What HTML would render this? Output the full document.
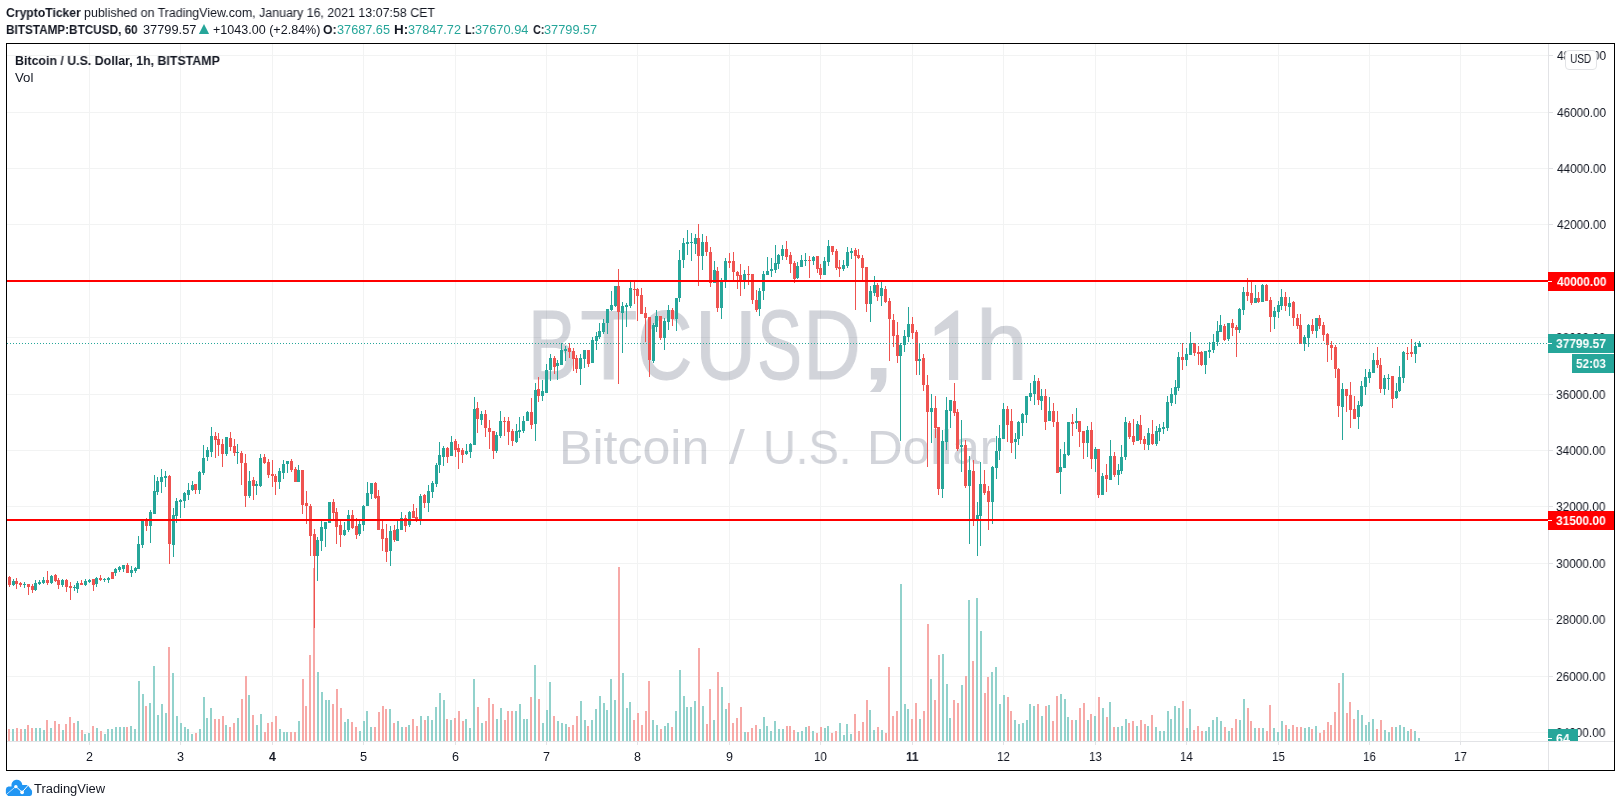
<!DOCTYPE html><html><head><meta charset="utf-8"><title>BTCUSD</title><style>
html,body{margin:0;padding:0;background:#fff;}
body{width:1621px;height:807px;position:relative;overflow:hidden;font-family:'Liberation Sans', sans-serif;}
.t{position:absolute;white-space:nowrap;line-height:24px;transform-origin:0 0;will-change:transform;font-family:'Liberation Sans', sans-serif;}
svg{position:absolute;left:0;top:0;}
</style></head><body>
<div class="t" style="left:527.66px;top:273px;font-size:97.5px;font-weight:normal;color:#d2d4da;transform:scaleX(0.7515);line-height:146px;-webkit-text-stroke:1.0px #d2d4da;">B</div>
<div class="t" style="left:579.97px;top:273px;font-size:97.5px;font-weight:normal;color:#d2d4da;transform:scaleX(0.9650);line-height:146px;-webkit-text-stroke:1.0px #d2d4da;">T</div>
<div class="t" style="left:637.28px;top:273px;font-size:97.5px;font-weight:normal;color:#d2d4da;transform:scaleX(0.7862);line-height:146px;-webkit-text-stroke:1.0px #d2d4da;">C</div>
<div class="t" style="left:694.60px;top:273px;font-size:97.5px;font-weight:normal;color:#d2d4da;transform:scaleX(0.8708);line-height:146px;-webkit-text-stroke:1.0px #d2d4da;">U</div>
<div class="t" style="left:756.95px;top:273px;font-size:97.5px;font-weight:normal;color:#d2d4da;transform:scaleX(0.6927);line-height:146px;-webkit-text-stroke:1.0px #d2d4da;">S</div>
<div class="t" style="left:802.82px;top:273px;font-size:97.5px;font-weight:normal;color:#d2d4da;transform:scaleX(0.8226);line-height:146px;-webkit-text-stroke:1.0px #d2d4da;">D</div>
<div class="t" style="left:857.53px;top:273px;font-size:97.5px;font-weight:normal;color:#d2d4da;transform:scaleX(1.5088);line-height:146px;-webkit-text-stroke:1.0px #d2d4da;">,</div>
<div class="t" style="left:975.77px;top:273px;font-size:97.5px;font-weight:normal;color:#d2d4da;transform:scaleX(0.9533);line-height:146px;-webkit-text-stroke:1.0px #d2d4da;">h</div>
<div class="t" style="left:559.38px;top:412px;font-size:47.5px;font-weight:normal;color:#d2d4da;transform:scaleX(1.0541);line-height:71px;">Bitcoin</div>
<div class="t" style="left:728.73px;top:412px;font-size:47.5px;font-weight:normal;color:#d2d4da;transform:scaleX(1.1987);line-height:71px;">/</div>
<div class="t" style="left:763.18px;top:412px;font-size:47.5px;font-weight:normal;color:#d2d4da;transform:scaleX(0.9570);line-height:71px;">U.S.</div>
<div class="t" style="left:866.63px;top:412px;font-size:47.5px;font-weight:normal;color:#d2d4da;transform:scaleX(1.0413);line-height:71px;">Dollar</div>
<svg width="1621" height="807" viewBox="0 0 1621 807" shape-rendering="crispEdges" style="will-change:transform"><path d="M934.7 327.3L955.7 310.6L958.2 310.6V380H949V327.9L934.7 335.9z" fill="#d2d4da" shape-rendering="auto"/><path d="M7 732.5H1548M7 676.5H1548M7 619.5H1548M7 563.5H1548M7 506.5H1548M7 450.5H1548M7 394.5H1548M7 337.5H1548M7 281.5H1548M7 224.5H1548M7 168.5H1548M7 112.5H1548M7 55.5H1548M89.5 44V741M180.5 44V741M272.5 44V741M363.5 44V741M455.5 44V741M546.5 44V741M637.5 44V741M729.5 44V741M820.5 44V741M912.5 44V741M1003.5 44V741M1095.5 44V741M1186.5 44V741M1278.5 44V741M1369.5 44V741M1460.5 44V741" stroke="#2a2e39" stroke-opacity="0.06" stroke-width="1" fill="none"/><path d="M12 741v-12h2V741zM24 741v-12h2V741zM35 741v-13h2V741zM39 741v-13h2V741zM43 741v-11h2V741zM50 741v-13h2V741zM62 741v-11h2V741zM77 741v-20h2V741zM84 741v-7h2V741zM88 741v-8h2V741zM96 741v-13h2V741zM104 741v-7h2V741zM107 741v-12h2V741zM111 741v-12h2V741zM115 741v-14h2V741zM119 741v-14h2V741zM123 741v-14h2V741zM130 741v-15h2V741zM134 741v-12h2V741zM138 741v-60h2V741zM142 741v-47h2V741zM149 741v-38h2V741zM153 741v-75h2V741zM157 741v-26h2V741zM161 741v-37h2V741zM165 741v-28h2V741zM172 741v-68h2V741zM176 741v-25h2V741zM180 741v-18h2V741zM184 741v-14h2V741zM187 741v-12h2V741zM191 741v-7h2V741zM199 741v-12h2V741zM203 741v-44h2V741zM206 741v-23h2V741zM210 741v-33h2V741zM225 741v-16h2V741zM237 741v-23h2V741zM248 741v-46h2V741zM256 741v-16h2V741zM260 741v-27h2V741zM279 741v-12h2V741zM283 741v-9h2V741zM286 741v-9h2V741zM298 741v-20h2V741zM317 741v-69h2V741zM321 741v-49h2V741zM325 741v-41h2V741zM328 741v-41h2V741zM344 741v-19h2V741zM347 741v-22h2V741zM359 741v-10h2V741zM363 741v-20h2V741zM366 741v-30h2V741zM370 741v-14h2V741zM389 741v-32h2V741zM397 741v-20h2V741zM401 741v-14h2V741zM408 741v-16h2V741zM420 741v-25h2V741zM427 741v-25h2V741zM431 741v-21h2V741zM435 741v-34h2V741zM439 741v-48h2V741zM443 741v-41h2V741zM450 741v-21h2V741zM465 741v-22h2V741zM469 741v-13h2V741zM473 741v-62h2V741zM481 741v-18h2V741zM496 741v-22h2V741zM500 741v-33h2V741zM515 741v-30h2V741zM519 741v-37h2V741zM523 741v-22h2V741zM526 741v-22h2V741zM534 741v-76h2V741zM542 741v-18h2V741zM546 741v-31h2V741zM549 741v-59h2V741zM557 741v-20h2V741zM561 741v-18h2V741zM565 741v-17h2V741zM580 741v-40h2V741zM584 741v-21h2V741zM591 741v-21h2V741zM595 741v-32h2V741zM599 741v-45h2V741zM603 741v-38h2V741zM606 741v-31h2V741zM610 741v-62h2V741zM614 741v-41h2V741zM622 741v-68h2V741zM626 741v-33h2V741zM629 741v-39h2V741zM652 741v-21h2V741zM656 741v-16h2V741zM664 741v-15h2V741zM667 741v-18h2V741zM675 741v-30h2V741zM679 741v-71h2V741zM683 741v-45h2V741zM686 741v-34h2V741zM690 741v-34h2V741zM694 741v-40h2V741zM702 741v-35h2V741zM713 741v-21h2V741zM721 741v-54h2V741zM725 741v-32h2V741zM744 741v-9h2V741zM759 741v-12h2V741zM763 741v-24h2V741zM766 741v-15h2V741zM770 741v-10h2V741zM774 741v-20h2V741zM778 741v-12h2V741zM782 741v-12h2V741zM797 741v-9h2V741zM801 741v-10h2V741zM805 741v-14h2V741zM812 741v-10h2V741zM824 741v-13h2V741zM827 741v-15h2V741zM839 741v-18h2V741zM843 741v-6h2V741zM846 741v-17h2V741zM850 741v-7h2V741zM869 741v-31h2V741zM873 741v-11h2V741zM881 741v-11h2V741zM900 741v-157h2V741zM904 741v-37h2V741zM907 741v-32h2V741zM919 741v-22h2V741zM930 741v-62h2V741zM942 741v-87h2V741zM946 741v-57h2V741zM949 741v-23h2V741zM961 741v-56h2V741zM968 741v-141h2V741zM976 741v-143h2V741zM980 741v-110h2V741zM991 741v-69h2V741zM995 741v-74h2V741zM999 741v-37h2V741zM1003 741v-46h2V741zM1014 741v-21h2V741zM1018 741v-17h2V741zM1022 741v-18h2V741zM1026 741v-21h2V741zM1029 741v-37h2V741zM1033 741v-35h2V741zM1041 741v-25h2V741zM1048 741v-36h2V741zM1060 741v-47h2V741zM1064 741v-42h2V741zM1067 741v-24h2V741zM1075 741v-21h2V741zM1087 741v-21h2V741zM1094 741v-25h2V741zM1102 741v-33h2V741zM1109 741v-39h2V741zM1117 741v-14h2V741zM1121 741v-15h2V741zM1125 741v-22h2V741zM1136 741v-15h2V741zM1147 741v-15h2V741zM1155 741v-14h2V741zM1159 741v-10h2V741zM1163 741v-10h2V741zM1167 741v-30h2V741zM1170 741v-22h2V741zM1174 741v-35h2V741zM1178 741v-33h2V741zM1186 741v-13h2V741zM1189 741v-32h2V741zM1205 741v-10h2V741zM1208 741v-14h2V741zM1212 741v-21h2V741zM1216 741v-24h2V741zM1220 741v-20h2V741zM1228 741v-10h2V741zM1239 741v-21h2V741zM1243 741v-42h2V741zM1254 741v-13h2V741zM1262 741v-13h2V741zM1273 741v-13h2V741zM1277 741v-9h2V741zM1281 741v-20h2V741zM1288 741v-12h2V741zM1304 741v-13h2V741zM1308 741v-14h2V741zM1315 741v-15h2V741zM1342 741v-68h2V741zM1357 741v-31h2V741zM1361 741v-26h2V741zM1365 741v-16h2V741zM1368 741v-19h2V741zM1372 741v-22h2V741zM1384 741v-11h2V741zM1388 741v-9h2V741zM1395 741v-14h2V741zM1399 741v-16h2V741zM1403 741v-14h2V741zM1407 741v-10h2V741zM1414 741v-10h2V741zM1418 741v-3h2V741z" fill="#92d2cc"/><path d="M8 741v-12h2V741zM16 741v-13h2V741zM20 741v-12h2V741zM27 741v-16h2V741zM31 741v-13h2V741zM46 741v-21h2V741zM54 741v-20h2V741zM58 741v-17h2V741zM65 741v-17h2V741zM69 741v-24h2V741zM73 741v-18h2V741zM81 741v-11h2V741zM92 741v-15h2V741zM100 741v-10h2V741zM126 741v-14h2V741zM145 741v-35h2V741zM168 741v-94h2V741zM195 741v-8h2V741zM214 741v-22h2V741zM218 741v-22h2V741zM222 741v-25h2V741zM229 741v-14h2V741zM233 741v-18h2V741zM241 741v-42h2V741zM245 741v-65h2V741zM252 741v-26h2V741zM264 741v-9h2V741zM267 741v-18h2V741zM271 741v-19h2V741zM275 741v-25h2V741zM290 741v-9h2V741zM294 741v-9h2V741zM302 741v-62h2V741zM305 741v-35h2V741zM309 741v-86h2V741zM313 741v-173h2V741zM332 741v-37h2V741zM336 741v-52h2V741zM340 741v-33h2V741zM351 741v-19h2V741zM355 741v-14h2V741zM374 741v-14h2V741zM378 741v-29h2V741zM382 741v-35h2V741zM385 741v-32h2V741zM393 741v-18h2V741zM405 741v-14h2V741zM412 741v-22h2V741zM416 741v-15h2V741zM424 741v-21h2V741zM446 741v-22h2V741zM454 741v-23h2V741zM458 741v-30h2V741zM462 741v-20h2V741zM477 741v-34h2V741zM485 741v-20h2V741zM488 741v-43h2V741zM492 741v-37h2V741zM504 741v-21h2V741zM507 741v-30h2V741zM511 741v-30h2V741zM530 741v-44h2V741zM538 741v-42h2V741zM553 741v-25h2V741zM568 741v-14h2V741zM572 741v-16h2V741zM576 741v-25h2V741zM587 741v-15h2V741zM618 741v-174h2V741zM633 741v-21h2V741zM637 741v-28h2V741zM641 741v-16h2V741zM645 741v-30h2V741zM648 741v-60h2V741zM660 741v-12h2V741zM671 741v-14h2V741zM698 741v-93h2V741zM706 741v-17h2V741zM709 741v-52h2V741zM717 741v-69h2V741zM728 741v-38h2V741zM732 741v-18h2V741zM736 741v-23h2V741zM740 741v-34h2V741zM747 741v-9h2V741zM751 741v-13h2V741zM755 741v-16h2V741zM786 741v-15h2V741zM789 741v-15h2V741zM793 741v-11h2V741zM808 741v-15h2V741zM816 741v-8h2V741zM820 741v-14h2V741zM831 741v-8h2V741zM835 741v-10h2V741zM854 741v-27h2V741zM858 741v-10h2V741zM862 741v-19h2V741zM866 741v-41h2V741zM877 741v-14h2V741zM885 741v-8h2V741zM888 741v-74h2V741zM892 741v-25h2V741zM896 741v-30h2V741zM911 741v-22h2V741zM915 741v-38h2V741zM923 741v-30h2V741zM927 741v-117h2V741zM934 741v-41h2V741zM938 741v-86h2V741zM953 741v-41h2V741zM957 741v-38h2V741zM965 741v-65h2V741zM972 741v-80h2V741zM984 741v-48h2V741zM987 741v-64h2V741zM1007 741v-44h2V741zM1010 741v-30h2V741zM1037 741v-37h2V741zM1045 741v-35h2V741zM1052 741v-20h2V741zM1056 741v-45h2V741zM1071 741v-21h2V741zM1079 741v-33h2V741zM1083 741v-38h2V741zM1090 741v-27h2V741zM1098 741v-44h2V741zM1106 741v-24h2V741zM1113 741v-14h2V741zM1128 741v-18h2V741zM1132 741v-20h2V741zM1140 741v-21h2V741zM1144 741v-17h2V741zM1151 741v-26h2V741zM1182 741v-40h2V741zM1193 741v-11h2V741zM1197 741v-15h2V741zM1201 741v-10h2V741zM1224 741v-14h2V741zM1231 741v-13h2V741zM1235 741v-22h2V741zM1247 741v-33h2V741zM1250 741v-20h2V741zM1258 741v-13h2V741zM1266 741v-10h2V741zM1269 741v-36h2V741zM1285 741v-16h2V741zM1292 741v-16h2V741zM1296 741v-14h2V741zM1300 741v-14h2V741zM1311 741v-12h2V741zM1319 741v-8h2V741zM1323 741v-11h2V741zM1327 741v-19h2V741zM1330 741v-16h2V741zM1334 741v-29h2V741zM1338 741v-58h2V741zM1346 741v-28h2V741zM1349 741v-39h2V741zM1353 741v-22h2V741zM1376 741v-12h2V741zM1380 741v-21h2V741zM1391 741v-14h2V741zM1410 741v-12h2V741z" fill="#f7a9a7"/><path d="M13.5 579V586M24.5 582V588M35.5 580V591M39.5 580V585M43.5 577V584M51.5 575V584M62.5 579V587M74.5 585V591M77.5 581V593M85.5 579V586M89.5 579V583M96.5 577V587M104.5 578V582M108.5 577V583M115.5 568V576M119.5 566V572M123.5 565V572M131.5 566V577M135.5 567V573M138.5 536V569M142.5 519V548M150.5 510V543M154.5 475V514M157.5 477V495M161.5 469V493M165.5 471V487M173.5 508V557M176.5 498V523M180.5 499V518M184.5 492V508M188.5 483V500M192.5 481V491M199.5 471V494M203.5 445V475M207.5 447V461M211.5 427V457M226.5 437V456M237.5 444V464M249.5 471V498M256.5 481V495M260.5 454V487M279.5 468V489M283.5 460V479M287.5 461V473M298.5 465V482M317.5 537V581M321.5 521V551M325.5 522V547M329.5 502V523M344.5 522V536M348.5 510V532M359.5 521V536M363.5 505V531M367.5 482V506M371.5 483V499M390.5 526V566M397.5 519V541M401.5 512V530M409.5 511V527M420.5 494V525M428.5 485V512M432.5 481V498M436.5 463V487M439.5 442V473M443.5 446V466M451.5 436V456M466.5 444V455M470.5 443V458M474.5 397V445M481.5 411V425M496.5 432V453M500.5 411V438M516.5 424V443M519.5 417V438M523.5 416V433M527.5 411V421M535.5 383V441M542.5 380V401M546.5 364V393M550.5 354V381M557.5 360V380M561.5 343V365M565.5 346V361M580.5 354V385M584.5 350V368M592.5 337V363M596.5 332V350M599.5 323V339M603.5 319V334M607.5 309V334M611.5 291V311M615.5 286V307M622.5 302V353M626.5 303V327M630.5 282V308M653.5 323V363M656.5 310V332M664.5 318V350M668.5 305V330M676.5 298V331M679.5 250V302M683.5 238V268M687.5 230V255M691.5 233V261M695.5 234V254M702.5 234V270M714.5 261V283M721.5 278V319M725.5 258V288M744.5 270V289M759.5 288V316M763.5 271V300M767.5 257V275M771.5 258V277M775.5 245V273M778.5 254V269M782.5 245V260M797.5 262V279M801.5 255V267M805.5 253V266M813.5 256V265M824.5 257V275M828.5 240V266M843.5 260V271M847.5 247V268M851.5 248V259M870.5 286V322M874.5 276V296M881.5 282V306M900.5 343V441M904.5 330V352M908.5 307V342M919.5 343V375M931.5 394V443M942.5 430V498M946.5 397V450M950.5 400V428M961.5 420V472M969.5 456V544M977.5 502V556M980.5 462V546M992.5 466V524M996.5 436V479M999.5 425V460M1003.5 403V439M1015.5 433V459M1018.5 421V445M1022.5 413V436M1026.5 396V423M1030.5 383V401M1034.5 375V405M1041.5 389V410M1049.5 397V421M1060.5 449V494M1064.5 442V468M1068.5 422V456M1076.5 408V429M1087.5 426V457M1095.5 447V472M1102.5 473V495M1110.5 440V480M1118.5 464V485M1121.5 445V474M1125.5 417V460M1137.5 421V441M1148.5 428V450M1156.5 426V446M1159.5 424V441M1163.5 422V434M1167.5 396V431M1171.5 388V406M1175.5 380V404M1178.5 352V391M1186.5 348V366M1190.5 332V355M1205.5 351V374M1209.5 342V358M1213.5 334V353M1217.5 321V346M1220.5 315V332M1228.5 323V341M1239.5 308V333M1243.5 287V315M1255.5 285V303M1262.5 284V302M1274.5 307V329M1278.5 301V318M1281.5 289V310M1289.5 297V316M1304.5 335V351M1308.5 324V347M1316.5 318V338M1342.5 383V440M1358.5 401V429M1361.5 381V407M1365.5 369V395M1369.5 369V383M1373.5 353V373M1384.5 375V395M1388.5 374V390M1396.5 383V399M1399.5 366V392M1403.5 351V383M1415.5 342V363M1419.5 341V347" stroke="#26a69a" stroke-width="1" fill="none"/><path d="M9.5 576V587M16.5 578V589M20.5 582V587M28.5 584V595M32.5 584V593M47.5 571V585M55.5 574V582M58.5 578V589M66.5 579V592M70.5 582V600M81.5 580V585M93.5 579V591M100.5 575V581M112.5 572V579M127.5 563V573M146.5 518V531M169.5 475V564M195.5 484V494M215.5 432V458M218.5 433V456M222.5 439V467M230.5 432V451M234.5 439V456M241.5 451V485M245.5 454V507M253.5 477V500M264.5 454V464M268.5 459V478M272.5 460V487M275.5 474V495M291.5 459V472M295.5 467V482M302.5 470V514M306.5 491V524M310.5 504V556M314.5 529V628M333.5 499V519M336.5 508V544M340.5 520V547M352.5 510V529M356.5 518V539M375.5 482V499M378.5 490V530M382.5 519V551M386.5 524V562M394.5 525V542M405.5 515V532M413.5 504V518M416.5 508V522M424.5 494V508M447.5 447V463M455.5 439V457M458.5 444V469M462.5 448V463M477.5 402V433M485.5 410V437M489.5 420V449M493.5 431V459M504.5 417V436M508.5 417V445M512.5 429V446M531.5 398V429M538.5 377V402M554.5 356V374M569.5 343V358M573.5 348V371M576.5 355V373M588.5 350V367M618.5 269V384M634.5 281V304M637.5 288V321M641.5 288V314M645.5 307V342M649.5 317V377M660.5 316V340M672.5 308V326M698.5 224V286M706.5 236V256M710.5 247V287M717.5 267V312M729.5 253V268M733.5 252V280M737.5 271V289M740.5 264V296M748.5 266V285M752.5 274V304M756.5 290V312M786.5 241V260M790.5 252V273M794.5 261V283M809.5 256V278M817.5 256V273M820.5 264V279M832.5 246V255M836.5 249V270M839.5 260V277M855.5 248V310M858.5 249V259M862.5 255V280M866.5 267V312M877.5 283V301M885.5 286V303M889.5 298V361M893.5 314V347M897.5 322V363M912.5 317V339M916.5 330V375M923.5 354V391M927.5 375V467M935.5 396V438M938.5 427V495M954.5 383V416M957.5 409V451M965.5 440V488M973.5 460V526M984.5 470V495M988.5 486V530M1007.5 406V442M1011.5 409V453M1038.5 378V405M1045.5 389V430M1053.5 403V427M1057.5 411V473M1072.5 414V436M1079.5 421V447M1083.5 431V459M1091.5 422V469M1098.5 449V498M1106.5 464V492M1114.5 452V477M1129.5 421V439M1133.5 419V445M1140.5 415V444M1144.5 436V450M1152.5 420V445M1182.5 343V370M1194.5 343V356M1198.5 346V365M1201.5 351V366M1224.5 324V341M1232.5 319V336M1236.5 325V357M1247.5 278V301M1251.5 281V305M1258.5 292V303M1266.5 284V301M1270.5 297V332M1285.5 292V311M1293.5 301V326M1297.5 314V329M1300.5 314V344M1312.5 319V334M1319.5 315V329M1323.5 322V341M1327.5 333V362M1331.5 341V360M1335.5 345V378M1338.5 368V417M1346.5 389V412M1350.5 382V428M1354.5 396V419M1377.5 347V368M1380.5 358V393M1392.5 376V408M1407.5 347V360M1411.5 339V357" stroke="#ef5350" stroke-width="1" fill="none"/><path d="M12 581h3V585h-3zM23 584h3V585h-3zM34 583h3V590h-3zM38 582h3V584h-3zM42 580h3V583h-3zM50 576h3V583h-3zM61 580h3V585h-3zM73 587h3V588h-3zM76 583h3V589h-3zM84 581h3V585h-3zM88 580h3V582h-3zM95 578h3V584h-3zM103 579h3V580h-3zM107 578h3V580h-3zM114 569h3V573h-3zM118 567h3V570h-3zM122 565h3V569h-3zM130 570h3V573h-3zM134 568h3V571h-3zM137 544h3V569h-3zM141 519h3V545h-3zM149 512h3V526h-3zM153 491h3V514h-3zM156 481h3V492h-3zM160 477h3V482h-3zM164 476h3V478h-3zM172 515h3V545h-3zM175 501h3V516h-3zM179 500h3V502h-3zM183 493h3V501h-3zM187 490h3V495h-3zM191 485h3V490h-3zM198 472h3V490h-3zM202 458h3V473h-3zM206 450h3V457h-3zM210 436h3V452h-3zM225 437h3V454h-3zM236 452h3V453h-3zM248 481h3V496h-3zM255 484h3V486h-3zM259 458h3V486h-3zM278 471h3V482h-3zM282 464h3V473h-3zM286 461h3V464h-3zM297 470h3V482h-3zM316 540h3V556h-3zM320 527h3V541h-3zM324 522h3V529h-3zM328 502h3V523h-3zM343 530h3V535h-3zM347 515h3V530h-3zM358 524h3V534h-3zM362 506h3V525h-3zM366 493h3V506h-3zM370 483h3V494h-3zM389 531h3V551h-3zM396 529h3V541h-3zM400 518h3V530h-3zM408 512h3V525h-3zM419 496h3V520h-3zM427 491h3V503h-3zM431 483h3V492h-3zM435 465h3V484h-3zM438 455h3V465h-3zM442 448h3V457h-3zM450 442h3V456h-3zM465 451h3V454h-3zM469 444h3V452h-3zM473 409h3V445h-3zM480 414h3V420h-3zM495 435h3V451h-3zM499 421h3V436h-3zM515 431h3V442h-3zM518 430h3V432h-3zM522 421h3V431h-3zM526 412h3V421h-3zM534 390h3V424h-3zM541 391h3V396h-3zM545 370h3V393h-3zM549 358h3V370h-3zM556 363h3V366h-3zM560 350h3V365h-3zM564 349h3V351h-3zM579 358h3V369h-3zM583 350h3V359h-3zM591 340h3V363h-3zM595 336h3V341h-3zM598 331h3V337h-3zM602 323h3V332h-3zM606 309h3V323h-3zM610 305h3V310h-3zM614 286h3V306h-3zM621 306h3V313h-3zM625 305h3V307h-3zM629 288h3V306h-3zM652 325h3V361h-3zM655 316h3V327h-3zM663 321h3V338h-3zM667 310h3V322h-3zM675 298h3V319h-3zM678 260h3V298h-3zM682 243h3V260h-3zM686 242h3V244h-3zM690 242h3V243h-3zM694 238h3V244h-3zM701 242h3V256h-3zM713 270h3V283h-3zM720 280h3V308h-3zM724 261h3V281h-3zM743 274h3V282h-3zM758 291h3V309h-3zM762 274h3V291h-3zM766 271h3V275h-3zM770 269h3V271h-3zM774 263h3V270h-3zM777 255h3V264h-3zM781 249h3V256h-3zM796 266h3V278h-3zM800 260h3V267h-3zM804 260h3V261h-3zM812 257h3V261h-3zM823 261h3V275h-3zM827 246h3V262h-3zM842 265h3V269h-3zM846 252h3V266h-3zM850 251h3V253h-3zM869 291h3V304h-3zM873 285h3V293h-3zM880 288h3V296h-3zM899 345h3V356h-3zM903 336h3V345h-3zM907 324h3V337h-3zM918 359h3V361h-3zM930 408h3V412h-3zM941 441h3V489h-3zM945 410h3V442h-3zM949 400h3V411h-3zM960 445h3V447h-3zM968 470h3V486h-3zM976 515h3V520h-3zM979 484h3V516h-3zM991 467h3V502h-3zM995 451h3V468h-3zM998 438h3V451h-3zM1002 409h3V439h-3zM1014 439h3V442h-3zM1017 422h3V439h-3zM1021 414h3V423h-3zM1025 396h3V415h-3zM1029 393h3V397h-3zM1033 381h3V394h-3zM1040 396h3V401h-3zM1048 411h3V421h-3zM1059 467h3V472h-3zM1063 454h3V468h-3zM1067 422h3V455h-3zM1075 421h3V423h-3zM1086 430h3V443h-3zM1094 449h3V459h-3zM1101 476h3V495h-3zM1109 456h3V480h-3zM1117 470h3V475h-3zM1120 457h3V471h-3zM1124 422h3V457h-3zM1136 424h3V441h-3zM1147 433h3V445h-3zM1155 431h3V444h-3zM1158 428h3V432h-3zM1162 427h3V429h-3zM1166 402h3V428h-3zM1170 394h3V403h-3zM1174 387h3V395h-3zM1177 357h3V388h-3zM1185 354h3V360h-3zM1189 343h3V355h-3zM1204 351h3V365h-3zM1208 350h3V352h-3zM1212 342h3V350h-3zM1216 331h3V342h-3zM1219 325h3V332h-3zM1227 323h3V339h-3zM1238 309h3V330h-3zM1242 292h3V310h-3zM1254 298h3V303h-3zM1261 285h3V302h-3zM1273 311h3V317h-3zM1277 305h3V312h-3zM1280 297h3V306h-3zM1288 303h3V307h-3zM1303 337h3V344h-3zM1307 325h3V338h-3zM1315 318h3V331h-3zM1341 389h3V407h-3zM1357 405h3V417h-3zM1360 386h3V406h-3zM1364 377h3V387h-3zM1368 372h3V378h-3zM1372 360h3V373h-3zM1383 378h3V389h-3zM1387 378h3V379h-3zM1395 391h3V398h-3zM1398 377h3V391h-3zM1402 352h3V378h-3zM1414 346h3V354h-3zM1418 343h3V347h-3z" fill="#26a69a"/><path d="M8 577h3V585h-3zM15 581h3V584h-3zM19 583h3V585h-3zM27 584h3V587h-3zM31 586h3V590h-3zM46 580h3V583h-3zM54 575h3V581h-3zM57 580h3V585h-3zM65 580h3V587h-3zM69 586h3V588h-3zM80 583h3V585h-3zM92 579h3V585h-3zM99 578h3V580h-3zM111 572h3V579h-3zM126 565h3V573h-3zM145 519h3V526h-3zM168 476h3V544h-3zM194 484h3V490h-3zM214 436h3V440h-3zM217 439h3V445h-3zM221 444h3V454h-3zM229 438h3V447h-3zM233 446h3V453h-3zM240 453h3V463h-3zM244 463h3V496h-3zM252 480h3V486h-3zM263 457h3V463h-3zM267 462h3V475h-3zM271 474h3V476h-3zM274 476h3V482h-3zM290 461h3V470h-3zM294 469h3V482h-3zM301 470h3V505h-3zM305 503h3V506h-3zM309 506h3V536h-3zM313 534h3V556h-3zM332 502h3V513h-3zM335 512h3V527h-3zM339 525h3V535h-3zM351 515h3V528h-3zM355 526h3V535h-3zM374 483h3V498h-3zM377 496h3V530h-3zM381 529h3V539h-3zM385 538h3V552h-3zM393 530h3V540h-3zM404 518h3V526h-3zM412 511h3V518h-3zM415 517h3V521h-3zM423 495h3V503h-3zM446 448h3V457h-3zM454 441h3V450h-3zM457 448h3V452h-3zM461 450h3V455h-3zM476 408h3V419h-3zM484 414h3V428h-3zM488 428h3V432h-3zM492 431h3V451h-3zM503 421h3V422h-3zM507 421h3V432h-3zM511 431h3V441h-3zM530 412h3V425h-3zM537 389h3V396h-3zM553 358h3V367h-3zM568 348h3V352h-3zM572 351h3V359h-3zM575 358h3V369h-3zM587 350h3V364h-3zM617 286h3V312h-3zM633 289h3V290h-3zM636 289h3V296h-3zM640 295h3V314h-3zM644 313h3V318h-3zM648 317h3V360h-3zM659 316h3V338h-3zM671 310h3V319h-3zM697 238h3V256h-3zM705 242h3V252h-3zM709 252h3V283h-3zM716 271h3V308h-3zM728 261h3V263h-3zM732 261h3V272h-3zM736 272h3V276h-3zM739 275h3V282h-3zM747 274h3V275h-3zM751 274h3V300h-3zM755 300h3V310h-3zM785 249h3V257h-3zM789 255h3V264h-3zM793 263h3V279h-3zM808 260h3V261h-3zM816 256h3V269h-3zM819 268h3V275h-3zM831 246h3V252h-3zM835 251h3V268h-3zM838 267h3V269h-3zM854 250h3V256h-3zM857 255h3V258h-3zM861 258h3V268h-3zM865 267h3V304h-3zM876 285h3V297h-3zM884 289h3V302h-3zM888 301h3V319h-3zM892 320h3V336h-3zM896 335h3V356h-3zM911 324h3V333h-3zM915 332h3V361h-3zM922 358h3V385h-3zM926 385h3V412h-3zM934 408h3V428h-3zM937 427h3V489h-3zM953 401h3V413h-3zM956 412h3V449h-3zM964 445h3V486h-3zM972 471h3V520h-3zM983 484h3V493h-3zM987 491h3V502h-3zM1006 409h3V425h-3zM1010 421h3V443h-3zM1037 381h3V400h-3zM1044 396h3V422h-3zM1052 411h3V422h-3zM1056 422h3V473h-3zM1071 422h3V424h-3zM1078 421h3V432h-3zM1082 431h3V443h-3zM1090 430h3V459h-3zM1097 449h3V495h-3zM1105 475h3V479h-3zM1113 456h3V475h-3zM1128 423h3V437h-3zM1132 436h3V442h-3zM1139 425h3V440h-3zM1143 439h3V444h-3zM1151 434h3V444h-3zM1181 357h3V360h-3zM1193 343h3V353h-3zM1197 352h3V354h-3zM1200 352h3V365h-3zM1223 326h3V340h-3zM1231 323h3V328h-3zM1235 327h3V330h-3zM1246 292h3V296h-3zM1250 293h3V303h-3zM1257 298h3V302h-3zM1265 285h3V301h-3zM1269 300h3V317h-3zM1284 297h3V306h-3zM1292 302h3V318h-3zM1296 318h3V326h-3zM1299 325h3V344h-3zM1311 325h3V331h-3zM1318 318h3V326h-3zM1322 325h3V335h-3zM1326 334h3V345h-3zM1330 345h3V348h-3zM1334 347h3V369h-3zM1337 369h3V406h-3zM1345 389h3V396h-3zM1349 395h3V410h-3zM1353 409h3V419h-3zM1376 360h3V365h-3zM1379 365h3V389h-3zM1391 376h3V399h-3zM1406 353h3V354h-3zM1410 352h3V354h-3z" fill="#ef5350"/><path d="M7 343.5H1548" stroke="#26a69a" stroke-width="1" stroke-dasharray="1 2" fill="none"/><rect x="7" y="280" width="1541" height="2" fill="#ff0000"/><rect x="7" y="519" width="1541" height="2" fill="#ff0000"/><rect x="1549" y="44" width="65" height="697" fill="#fff"/><rect x="7" y="742" width="1607" height="28" fill="#fff"/><path d="M1548.5 44V770M7 741.5H1614" stroke="#e2e3e6" stroke-width="1" fill="none"/><path d="M1549 732.5h4M1549 676.5h4M1549 619.5h4M1549 563.5h4M1549 506.5h4M1549 450.5h4M1549 394.5h4M1549 337.5h4M1549 281.5h4M1549 224.5h4M1549 168.5h4M1549 112.5h4M1549 55.5h4M89.5 742v3M180.5 742v3M272.5 742v3M363.5 742v3M455.5 742v3M546.5 742v3M637.5 742v3M729.5 742v3M820.5 742v3M912.5 742v3M1003.5 742v3M1095.5 742v3M1186.5 742v3M1278.5 742v3M1369.5 742v3M1460.5 742v3" stroke="#e2e3e6" stroke-width="1" fill="none"/></svg>
<div class="t" style="left:5.90px;top:1px;font-size:12.5px;font-weight:bold;color:#131722;transform:scaleX(0.9731);">CryptoTicker</div>
<div class="t" style="left:83.67px;top:1px;font-size:12.5px;font-weight:normal;color:#131722;transform:scaleX(0.9930);">published on TradingView.com, January 16, 2021 13:07:58 CET</div>
<div class="t" style="left:6.21px;top:18px;font-size:12.5px;font-weight:bold;color:#131722;transform:scaleX(0.9397);">BITSTAMP:BTCUSD, 60</div>
<div class="t" style="left:142.56px;top:18px;font-size:12.5px;font-weight:normal;color:#131722;transform:scaleX(1.0246);">37799.57</div>
<div class="t" style="left:213.18px;top:18px;font-size:12.5px;font-weight:normal;color:#131722;transform:scaleX(1.0039);">+1043.00 (+2.84%)</div>
<div class="t" style="left:323.15px;top:18px;font-size:12.5px;font-weight:bold;color:#131722;transform:scaleX(0.9735);">O:</div>
<div class="t" style="left:336.77px;top:18px;font-size:12.5px;font-weight:normal;color:#26a69a;transform:scaleX(1.0165);">37687.65</div>
<div class="t" style="left:393.80px;top:18px;font-size:12.5px;font-weight:bold;color:#131722;transform:scaleX(1.0723);">H:</div>
<div class="t" style="left:407.87px;top:18px;font-size:12.5px;font-weight:normal;color:#26a69a;transform:scaleX(1.0168);">37847.72</div>
<div class="t" style="left:465.09px;top:18px;font-size:12.5px;font-weight:bold;color:#131722;transform:scaleX(0.8432);">L:</div>
<div class="t" style="left:475.37px;top:18px;font-size:12.5px;font-weight:normal;color:#26a69a;transform:scaleX(1.0237);">37670.94</div>
<div class="t" style="left:532.81px;top:18px;font-size:12.5px;font-weight:bold;color:#131722;transform:scaleX(0.8699);">C:</div>
<div class="t" style="left:544.47px;top:18px;font-size:12.5px;font-weight:normal;color:#26a69a;transform:scaleX(1.0207);">37799.57</div>
<div class="t" style="left:14.66px;top:49px;font-size:12.5px;font-weight:bold;color:#131722;transform:scaleX(0.9907);">Bitcoin / U.S. Dollar, 1h, BITSTAMP</div>
<div class="t" style="left:15.21px;top:66px;font-size:12.5px;font-weight:normal;color:#131722;transform:scaleX(1.0584);">Vol</div>
<div class="t" style="left:33.89px;top:777px;font-size:12.5px;font-weight:normal;color:#131722;transform:scaleX(1.0328);">TradingView</div>
<div class="t" style="left:1556.49px;top:721px;font-size:12.5px;font-weight:normal;color:#131722;transform:scaleX(0.9465);">24000.00</div>
<div class="t" style="left:1556.49px;top:665px;font-size:12.5px;font-weight:normal;color:#131722;transform:scaleX(0.9465);">26000.00</div>
<div class="t" style="left:1556.49px;top:608px;font-size:12.5px;font-weight:normal;color:#131722;transform:scaleX(0.9465);">28000.00</div>
<div class="t" style="left:1556.42px;top:552px;font-size:12.5px;font-weight:normal;color:#131722;transform:scaleX(0.9479);">30000.00</div>
<div class="t" style="left:1556.42px;top:495px;font-size:12.5px;font-weight:normal;color:#131722;transform:scaleX(0.9479);">32000.00</div>
<div class="t" style="left:1556.42px;top:439px;font-size:12.5px;font-weight:normal;color:#131722;transform:scaleX(0.9479);">34000.00</div>
<div class="t" style="left:1556.42px;top:383px;font-size:12.5px;font-weight:normal;color:#131722;transform:scaleX(0.9479);">36000.00</div>
<div class="t" style="left:1556.42px;top:326px;font-size:12.5px;font-weight:normal;color:#131722;transform:scaleX(0.9479);">38000.00</div>
<div class="t" style="left:1556.82px;top:270px;font-size:12.5px;font-weight:normal;color:#131722;transform:scaleX(0.9402);">40000.00</div>
<div class="t" style="left:1556.82px;top:213px;font-size:12.5px;font-weight:normal;color:#131722;transform:scaleX(0.9402);">42000.00</div>
<div class="t" style="left:1556.82px;top:157px;font-size:12.5px;font-weight:normal;color:#131722;transform:scaleX(0.9402);">44000.00</div>
<div class="t" style="left:1556.82px;top:101px;font-size:12.5px;font-weight:normal;color:#131722;transform:scaleX(0.9402);">46000.00</div>
<div class="t" style="left:1556.82px;top:44px;font-size:12.5px;font-weight:normal;color:#131722;transform:scaleX(0.9402);">48000.00</div>
<div class="t" style="left:85.70px;top:745px;font-size:12.5px;font-weight:normal;color:#131722;transform:scaleX(1.0031);">2</div>
<div class="t" style="left:176.62px;top:745px;font-size:12.5px;font-weight:normal;color:#131722;transform:scaleX(1.0122);">3</div>
<div class="t" style="left:268.80px;top:745px;font-size:12.5px;font-weight:bold;color:#131722;transform:scaleX(0.9606);">4</div>
<div class="t" style="left:359.56px;top:745px;font-size:12.5px;font-weight:normal;color:#131722;transform:scaleX(1.0236);">5</div>
<div class="t" style="left:451.67px;top:745px;font-size:12.5px;font-weight:normal;color:#131722;transform:scaleX(1.0078);">6</div>
<div class="t" style="left:542.70px;top:745px;font-size:12.5px;font-weight:normal;color:#131722;transform:scaleX(1.0031);">7</div>
<div class="t" style="left:633.75px;top:745px;font-size:12.5px;font-weight:normal;color:#131722;transform:scaleX(0.9915);">8</div>
<div class="t" style="left:725.69px;top:745px;font-size:12.5px;font-weight:normal;color:#131722;transform:scaleX(1.0056);">9</div>
<div class="t" style="left:813.58px;top:745px;font-size:12.5px;font-weight:normal;color:#131722;transform:scaleX(0.9170);">10</div>
<div class="t" style="left:905.76px;top:745px;font-size:12.5px;font-weight:bold;color:#131722;transform:scaleX(0.9454);">11</div>
<div class="t" style="left:996.58px;top:745px;font-size:12.5px;font-weight:normal;color:#131722;transform:scaleX(0.9249);">12</div>
<div class="t" style="left:1088.58px;top:745px;font-size:12.5px;font-weight:normal;color:#131722;transform:scaleX(0.9232);">13</div>
<div class="t" style="left:1179.59px;top:745px;font-size:12.5px;font-weight:normal;color:#131722;transform:scaleX(0.9073);">14</div>
<div class="t" style="left:1271.58px;top:745px;font-size:12.5px;font-weight:normal;color:#131722;transform:scaleX(0.9237);">15</div>
<div class="t" style="left:1362.57px;top:745px;font-size:12.5px;font-weight:normal;color:#131722;transform:scaleX(0.9252);">16</div>
<div class="t" style="left:1453.58px;top:745px;font-size:12.5px;font-weight:normal;color:#131722;transform:scaleX(0.9249);">17</div>
<svg width="1621" height="807" viewBox="0 0 1621 807" shape-rendering="crispEdges"><rect x="1548" y="272" width="66" height="19" fill="#ff0000"/><rect x="1548" y="281" width="4" height="1" fill="#fff"/><rect x="1548" y="511" width="66" height="19" fill="#ff0000"/><rect x="1548" y="520" width="4" height="1" fill="#fff"/><rect x="1548" y="334" width="66" height="19" fill="#26a69a"/><rect x="1548" y="343" width="4" height="1" fill="#fff"/><rect x="1572" y="354" width="42" height="19" fill="#26a69a"/><rect x="1548" y="729" width="30" height="12" fill="#26a69a"/><rect x="1548" y="738" width="4" height="1" fill="#fff"/><rect x="1565.5" y="50.5" width="31" height="19" rx="3.5" fill="#fff" stroke="#e2e3e6" shape-rendering="auto"/><path d="M6.5 43.5H1614.5V770.5H6.5z" stroke="#000" stroke-width="1" fill="none"/><g shape-rendering="auto"><path fill="#2196f3" d="M9 796.1L30 796.1Q32.06 795.8 32.06 793.6L32.06 791.2Q31.9 790.6 31.5 790.1L28 785.5Q27.4 784.9 26.6 784.9L22.32 784.9A5.5 5.5 0 1 0 11.51 786.6L8.4 786.6Q5.87 786.9 5.87 789.6L5.87 793.3Q6 794.2 6.6 794.6L8.2 795.9Q8.6 796.1 9 796.1Z"/><path d="M6.3 794.5L15.85 786.5" stroke="#fff" stroke-width="0.7" fill="none"/><path d="M15.85 786.5L22.1 792.2 28.6 784.8" stroke="#fff" stroke-width="1" fill="none"/><circle cx="15.85" cy="786.6" r="1.7" fill="#fff"/><circle cx="22.1" cy="792.3" r="1.9" fill="#fff"/></g><path d="M198.9 33.9L204 23.9 209.1 33.9z" fill="#26a69a" shape-rendering="auto"/></svg>
<div class="t" style="left:1570.19px;top:47px;font-size:12.5px;font-weight:normal;color:#131722;transform:scaleX(0.8083);">USD</div>
<div class="t" style="left:1556.60px;top:270px;font-size:12.5px;font-weight:bold;color:#fff;transform:scaleX(0.9468);">40000.00</div>
<div class="t" style="left:1556.30px;top:332px;font-size:12.5px;font-weight:bold;color:#fff;transform:scaleX(0.9566);">37799.57</div>
<div class="t" style="left:1575.76px;top:352px;font-size:12.5px;font-weight:bold;color:#fff;transform:scaleX(0.9364);">52:03</div>
<div class="t" style="left:1556.35px;top:509px;font-size:12.5px;font-weight:bold;color:#fff;transform:scaleX(0.9517);">31500.00</div>
<div class="t" style="left:1556.01px;top:727px;font-size:12.5px;font-weight:bold;color:#fff;transform:scaleX(0.9724);clip-path:inset(0 0 10px 0);">64</div>
</body></html>
